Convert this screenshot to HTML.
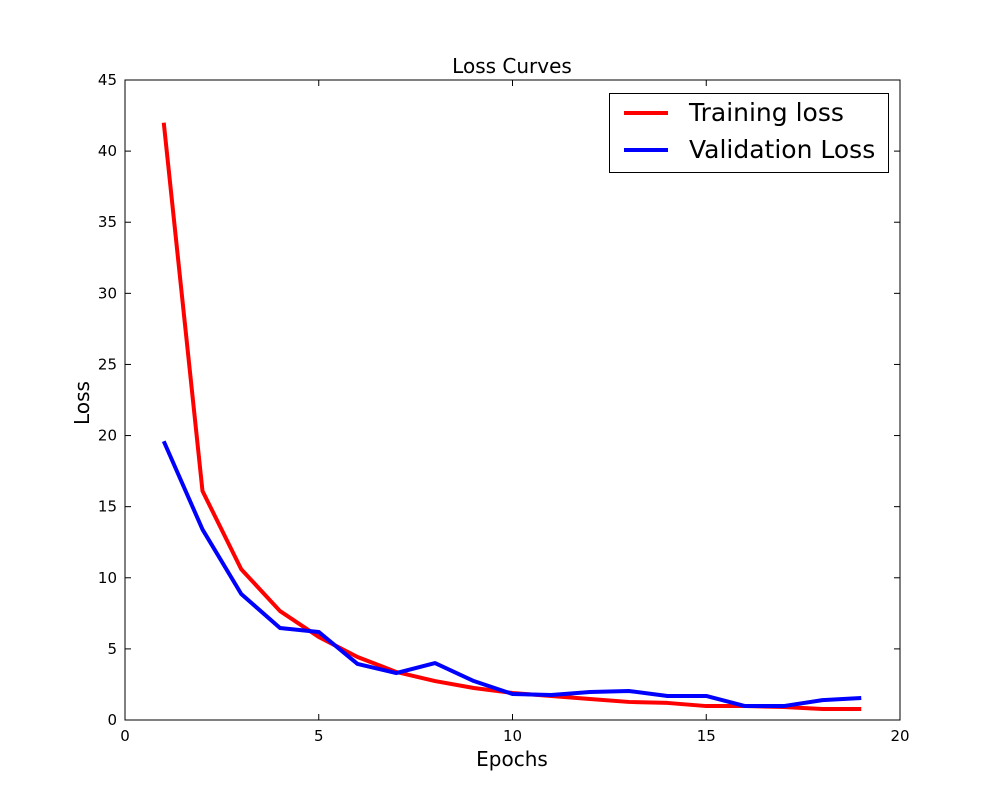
<!DOCTYPE html>
<html><head><meta charset="utf-8"><style>
body{margin:0;background:#fff;}
svg text{font-family:"DejaVu Sans","Liberation Sans",sans-serif;fill:#000;}
</style></head><body>
<svg id="chart" width="1000" height="800" xmlns="http://www.w3.org/2000/svg">
<rect width="1000" height="800" fill="#fff"/>
<g id="plot"></g>
</svg>
<script>
const epochs=[1,2,3,4,5,6,7,8,9,10,11,12,13,14,15,16,17,18,19];
const trainLoss=[42.0,16.1,10.6,7.66,5.84,4.43,3.38,2.74,2.25,1.9,1.69,1.48,1.27,1.2,0.98,0.98,0.91,0.77,0.77];
const valLoss=[19.6,13.4,8.86,6.47,6.19,3.94,3.3,4.0,2.74,1.83,1.76,1.97,2.04,1.69,1.69,0.98,0.98,1.4,1.55];
const xTicks=[0,5,10,15,20];
const yTicks=[0,5,10,15,20,25,30,35,40,45];
const L=125,R=900,T=80,B=720,xMax=20,yMax=45;
const sx=v=>L+(R-L)*v/xMax, sy=v=>B-(B-T)*v/yMax;
const ns="http://www.w3.org/2000/svg", g=document.getElementById('plot');
function mk(tag,attrs,parent){const e=document.createElementNS(ns,tag);for(const k in attrs)e.setAttribute(k,attrs[k]);(parent||g).appendChild(e);return e;}
function line(pts,color,name){
  const p=mk('polyline',{points:pts.map(q=>q.join(',')).join(' '),fill:'none',stroke:color,'stroke-width':4,'stroke-linejoin':'round'});
  
  
}
line(epochs.map((e,i)=>[sx(e),sy(trainLoss[i])]),'#ff0000','training-loss-line');
line(epochs.map((e,i)=>[sx(e),sy(valLoss[i])]),'#0000ff','validation-loss-line');
const frame=mk('rect',{x:L,y:T,width:R-L,height:B-T,fill:'none',stroke:'#000','stroke-width':1});


xTicks.forEach(v=>{
  const x=sx(v);
  mk('line',{x1:x,y1:B,x2:x,y2:B-6,stroke:'#000'});
  mk('line',{x1:x,y1:T,x2:x,y2:T+6,stroke:'#000'});
  const t=mk('text',{x:x,y:B+21,'text-anchor':'middle','font-size':15});t.textContent=v;
  
  
});
yTicks.forEach(v=>{
  const y=sy(v);
  mk('line',{x1:L,y1:y,x2:L+6,y2:y,stroke:'#000'});
  mk('line',{x1:R,y1:y,x2:R-6,y2:y,stroke:'#000'});
  const t=mk('text',{x:L-8,y:y+5,'text-anchor':'end','font-size':15});t.textContent=v;
  
  
});
let t=mk('text',{x:512,y:73,'text-anchor':'middle','font-size':20});t.textContent='Loss Curves';


t=mk('text',{x:512,y:766,'text-anchor':'middle','font-size':20});t.textContent='Epochs';


t=mk('text',{x:89,y:403,'text-anchor':'middle','font-size':20,transform:'rotate(-90 89 403)'});t.textContent='Loss';


const lg=mk('g',{});


mk('rect',{x:609.5,y:93.5,width:279,height:79,fill:'#fff',stroke:'#000'},lg);
mk('line',{x1:624,y1:113,x2:668,y2:113,stroke:'#ff0000','stroke-width':4},lg);
mk('line',{x1:624,y1:150,x2:668,y2:150,stroke:'#0000ff','stroke-width':4},lg);
t=mk('text',{x:689,y:121,'font-size':25},lg);t.textContent='Training loss';


t=mk('text',{x:689,y:158,'font-size':25},lg);t.textContent='Validation Loss';


</script>
</body></html>
